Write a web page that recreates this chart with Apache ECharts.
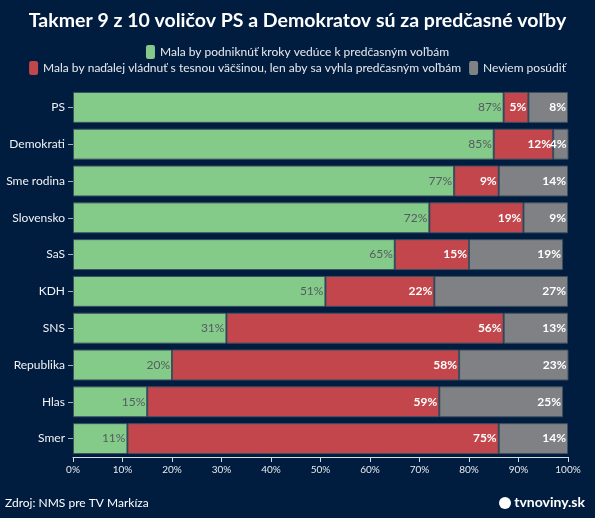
<!DOCTYPE html>
<html><head><meta charset="utf-8">
<script src="https://cdn.jsdelivr.net/npm/echarts@6/dist/echarts.min.js"></script>
<style>html,body{margin:0;padding:0;background:#001d40;}#c{width:595px;height:518px;}</style>
</head><body><div id="c"></div>
<script>
var categories = ['PS','Demokrati','Sme rodina','Slovensko','SaS','KDH','SNS','Republika','Hlas','Smer'];
var seriesNames = ['Mala by podniknúť kroky vedúce k predčasným voľbám','Mala by naďalej vládnuť s tesnou väčšinou, len aby sa vyhla predčasným voľbám','Neviem posúdiť'];
var greenVals = [87,85,77,72,65,51,31,20,15,11];
var redVals = [5,12,9,19,15,22,56,58,59,75];
var grayVals = [8,4,14,9,19,27,13,23,25,14];
var xTicks = [0,10,20,30,40,50,60,70,80,90,100];

var FONT = 'Lato,sans-serif';
var colors = ['#84cb8a','#c2464b','#7f8185'];
var chart = echarts.init(document.getElementById('c'));
function mk(i, vals, labelColor, bold){
  return {
    name: seriesNames[i], type:'bar', stack:'a', data: vals,
    barCategoryGap:'16%',
    itemStyle:{color:colors[i], borderColor:'#3d5060', borderWidth:1},
    label:{show:true, position:'insideRight', formatter:'{c}%', color:labelColor,
      fontWeight: bold?'bold':'normal', fontSize:12, fontFamily:FONT, distance:2}
  };
}
var legendCommon = {left:'center', itemWidth:9, itemHeight:14, icon:'roundRect',
  itemStyle:{borderWidth:0}, textStyle:{color:'#e8eaee', fontSize:12, fontFamily:FONT}, selectedMode:false};
chart.setOption({
  backgroundColor:'#001d40',
  animation:false,
  textStyle:{fontFamily:FONT},
  title:{text:'Takmer 9 z 10 voličov PS a Demokratov sú za predčasné voľby', left:'center', top:6,
    textStyle:{color:'#ffffff', fontSize:19.5, fontWeight:'bold', fontFamily:FONT}},
  legend:[
    Object.assign({data:[seriesNames[0]], top:40, itemGap:6}, legendCommon),
    Object.assign({data:[seriesNames[1], seriesNames[2]], top:56, itemGap:8}, legendCommon)
  ],
  grid:{left:73, right:27, top:89, bottom:61, containLabel:false},
  xAxis:{type:'value', min:0, max:100, interval:10,
    axisLine:{show:true, lineStyle:{color:'#d8dce2'}},
    axisTick:{show:true, length:5, lineStyle:{color:'#d8dce2'}},
    splitLine:{show:false},
    axisLabel:{formatter:'{value}%', color:'#e8eaee', fontSize:10, fontFamily:FONT}},
  yAxis:{type:'category', data:categories, inverse:true,
    axisLine:{show:false}, axisTick:{show:true, length:5, lineStyle:{color:'#a9b0ba'}, alignWithLabel:true},
    axisLabel:{color:'#f0f2f5', fontSize:12, fontFamily:FONT, margin:8}},
  series:[ mk(0, greenVals, '#555b60', false), mk(1, redVals, '#ffffff', true), mk(2, grayVals, '#ffffff', true)],
  graphic:[
    {type:'text', left:5, top:497, style:{text:'Zdroj: NMS pre TV Markíza', fill:'#ffffff', fontSize:12, fontFamily:FONT}},
    {type:'circle', shape:{cx:505, cy:503, r:6}, style:{fill:'#ffffff'}},
    {type:'text', right:10, top:495, style:{text:'tvnoviny.sk', fill:'#ffffff', fontSize:14, fontWeight:'bold', fontFamily:FONT}}
  ]
});
</script></body></html>
